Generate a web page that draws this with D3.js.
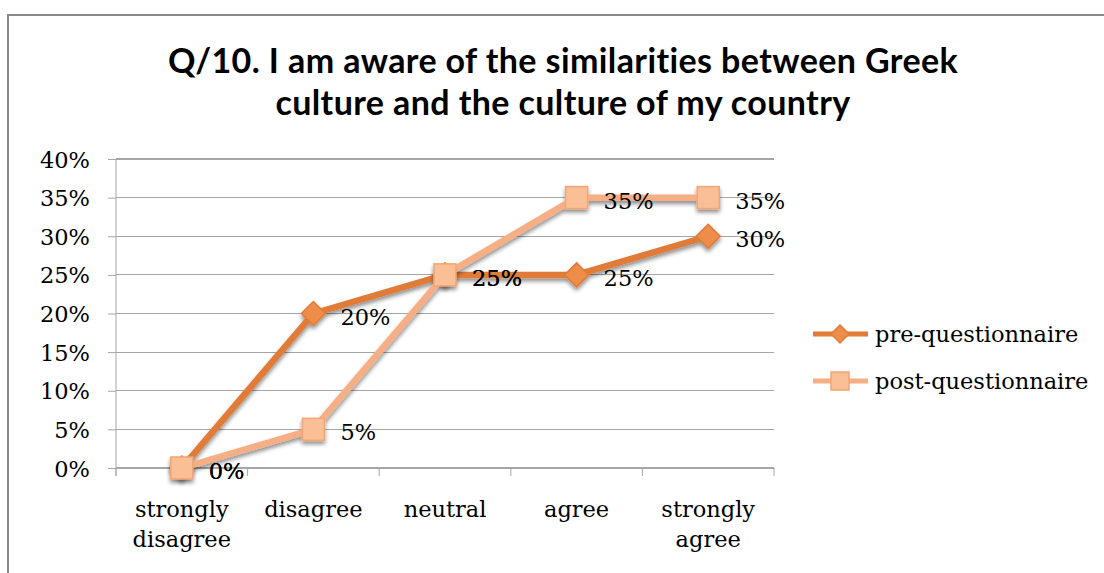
<!DOCTYPE html>
<html><head><meta charset="utf-8">
<script src="https://cdn.jsdelivr.net/npm/d3@7"></script>
<style>body{margin:0;background:#fff}svg{display:block}</style>
</head><body>
<svg id="c" width="1104" height="573"></svg>
<script>
const categories = [["strongly","disagree"],["disagree"],["neutral"],["agree"],["strongly","agree"]];
const preValues = [0, 20, 25, 25, 30];
const postValues = [0, 5, 25, 35, 35];
const yTicks = [0, 5, 10, 15, 20, 25, 30, 35, 40];
const seriesNames = ["pre-questionnaire", "post-questionnaire"];
const titleLines = ["Q/10. I am aware of the similarities between Greek", "culture and the culture of my country"];

const svg = d3.select("#c");
const serif = "DejaVu Serif";
const fs = 22.5;
const preColor = "#E07B39", postLine = "#F6AE84", postFill = "#FBBF95", postStroke = "#F2A574", preFill = "#EE8C4A";

const defs = svg.append("defs");
const f = defs.append("filter").attr("id","sh").attr("x","-50%").attr("y","-50%").attr("width","200%").attr("height","200%");
f.append("feGaussianBlur").attr("in","SourceAlpha").attr("stdDeviation",2.2).attr("result","b");
f.append("feOffset").attr("in","b").attr("dx",0).attr("dy",3).attr("result","o");
f.append("feComponentTransfer").attr("in","o").attr("result","o2").append("feFuncA").attr("type","linear").attr("slope",0.45);
const m = f.append("feMerge"); m.append("feMergeNode").attr("in","o2"); m.append("feMergeNode").attr("in","SourceGraphic");

// outer border
svg.append("rect").attr("x",8).attr("y",15).attr("width",1110).attr("height",600)
  .attr("fill","#fff").attr("stroke","#8a8a8a").attr("stroke-width",2);

// title
const title = svg.append("text").attr("text-anchor","middle").attr("font-family","Lato, 'Open Sans', sans-serif")
  .attr("font-weight",700).attr("font-size",34).attr("letter-spacing",0.4).attr("fill","#000");
titleLines.forEach((t,i)=>title.append("tspan").attr("x",563).attr("y",73+i*42).text(t));

const x0 = 116, x1 = 774, yTop = 159, yBot = 468;
const x = d3.scaleBand().domain(d3.range(categories.length)).range([x0,x1]);
const y = d3.scaleLinear().domain([0,40]).range([yBot,yTop]);
const cx = i => x(i) + x.bandwidth()/2;

// gridlines
svg.append("g").selectAll("line").data(yTicks).join("line")
  .attr("x1",x0).attr("x2",x1).attr("y1",d=>y(d)).attr("y2",d=>y(d))
  .attr("stroke","#a6a6a6").attr("stroke-width",1.2).attr("shape-rendering","crispEdges");

// y axis
const ya = svg.append("g").attr("transform",`translate(${x0},0)`)
  .call(d3.axisLeft(y).tickValues(yTicks).tickFormat(d=>d+"%").tickSize(8).tickPadding(18));
ya.select(".domain").attr("stroke","#a6a6a6").attr("d",`M0,${yTop}V${yBot+8}`);
ya.selectAll(".tick line").attr("stroke","#a6a6a6");
ya.selectAll("text").attr("font-family",serif).attr("font-size",fs).attr("fill","#000").attr("dy","0.36em");

// x axis
const xa = svg.append("g").attr("transform",`translate(0,${yBot})`)
  .call(d3.axisBottom(x).tickSize(0).tickFormat(""));
xa.select(".domain").attr("stroke","#a6a6a6");
svg.append("g").selectAll("line").data(d3.range(categories.length+1)).join("line")
  .attr("x1",i=>x0+i*x.bandwidth()).attr("x2",i=>x0+i*x.bandwidth())
  .attr("y1",yBot).attr("y2",yBot+8).attr("stroke","#a6a6a6");
const xl = svg.append("g");
categories.forEach((lines,i)=>{
  const t = xl.append("text").attr("text-anchor","middle").attr("font-family",serif).attr("font-size",fs).attr("fill","#000");
  lines.forEach((s,j)=>t.append("tspan").attr("x",cx(i)).attr("y",517+j*30).text(s));
});

const line = d3.line().x((d,i)=>cx(i)).y(d=>y(d));
const diamond = (s) => `M0,${-s}L${s},0L0,${s}L${-s},0Z`;

const gPost = svg.append("g").attr("filter","url(#sh)");
gPost.append("path").datum(postValues).attr("d",line).attr("fill","none")
  .attr("stroke",postLine).attr("stroke-width",6.5).attr("stroke-linejoin","round");
const gPre = svg.append("g").attr("filter","url(#sh)");
gPre.append("path").datum(preValues).attr("d",line).attr("fill","none")
  .attr("stroke",preColor).attr("stroke-width",6.5).attr("stroke-linejoin","round");
gPre.selectAll("path.m").data(preValues).join("path").attr("class","m")
  .attr("transform",(d,i)=>`translate(${cx(i)},${y(d)})`).attr("d",diamond(12))
  .attr("fill",preFill).attr("stroke",preColor).attr("stroke-width",1.5);
gPost.selectAll("rect.m").data(postValues).join("rect").attr("class","m")
  .attr("x",(d,i)=>cx(i)-11).attr("y",d=>y(d)-11).attr("width",22).attr("height",22)
  .attr("fill",postFill).attr("stroke",postStroke).attr("stroke-width",1.5);
gPost.raise();

// data labels
const labels = svg.append("g").attr("font-family",serif).attr("font-size",fs).attr("fill","#000");
[preValues, postValues].forEach(vals=>{
  vals.forEach((v,i)=>{
    labels.append("text").attr("x",cx(i)+27).attr("y",y(v)+2).attr("dy","0.4em").text(v+"%");
  });
});

// legend
const lg = svg.append("g");
[[seriesNames[0],334,"pre"],[seriesNames[1],381,"post"]].forEach(([name,ly,k])=>{
  const g = lg.append("g");
  g.append("line").attr("x1",813).attr("x2",868).attr("y1",ly).attr("y2",ly)
    .attr("stroke",k==="pre"?preColor:postLine).attr("stroke-width",5);
  if(k==="pre") g.append("path").attr("transform",`translate(840,${ly})`).attr("d",diamond(9))
    .attr("fill",preFill).attr("stroke",preColor).attr("stroke-width",1.5);
  else g.append("rect").attr("x",831).attr("y",ly-9).attr("width",18).attr("height",18)
    .attr("fill",postFill).attr("stroke",postStroke).attr("stroke-width",1.5);
  g.append("text").attr("x",875).attr("y",ly).attr("dy","0.35em").attr("font-family",serif)
    .attr("font-size",fs).attr("fill","#000").text(name);
});
</script>
</body></html>
